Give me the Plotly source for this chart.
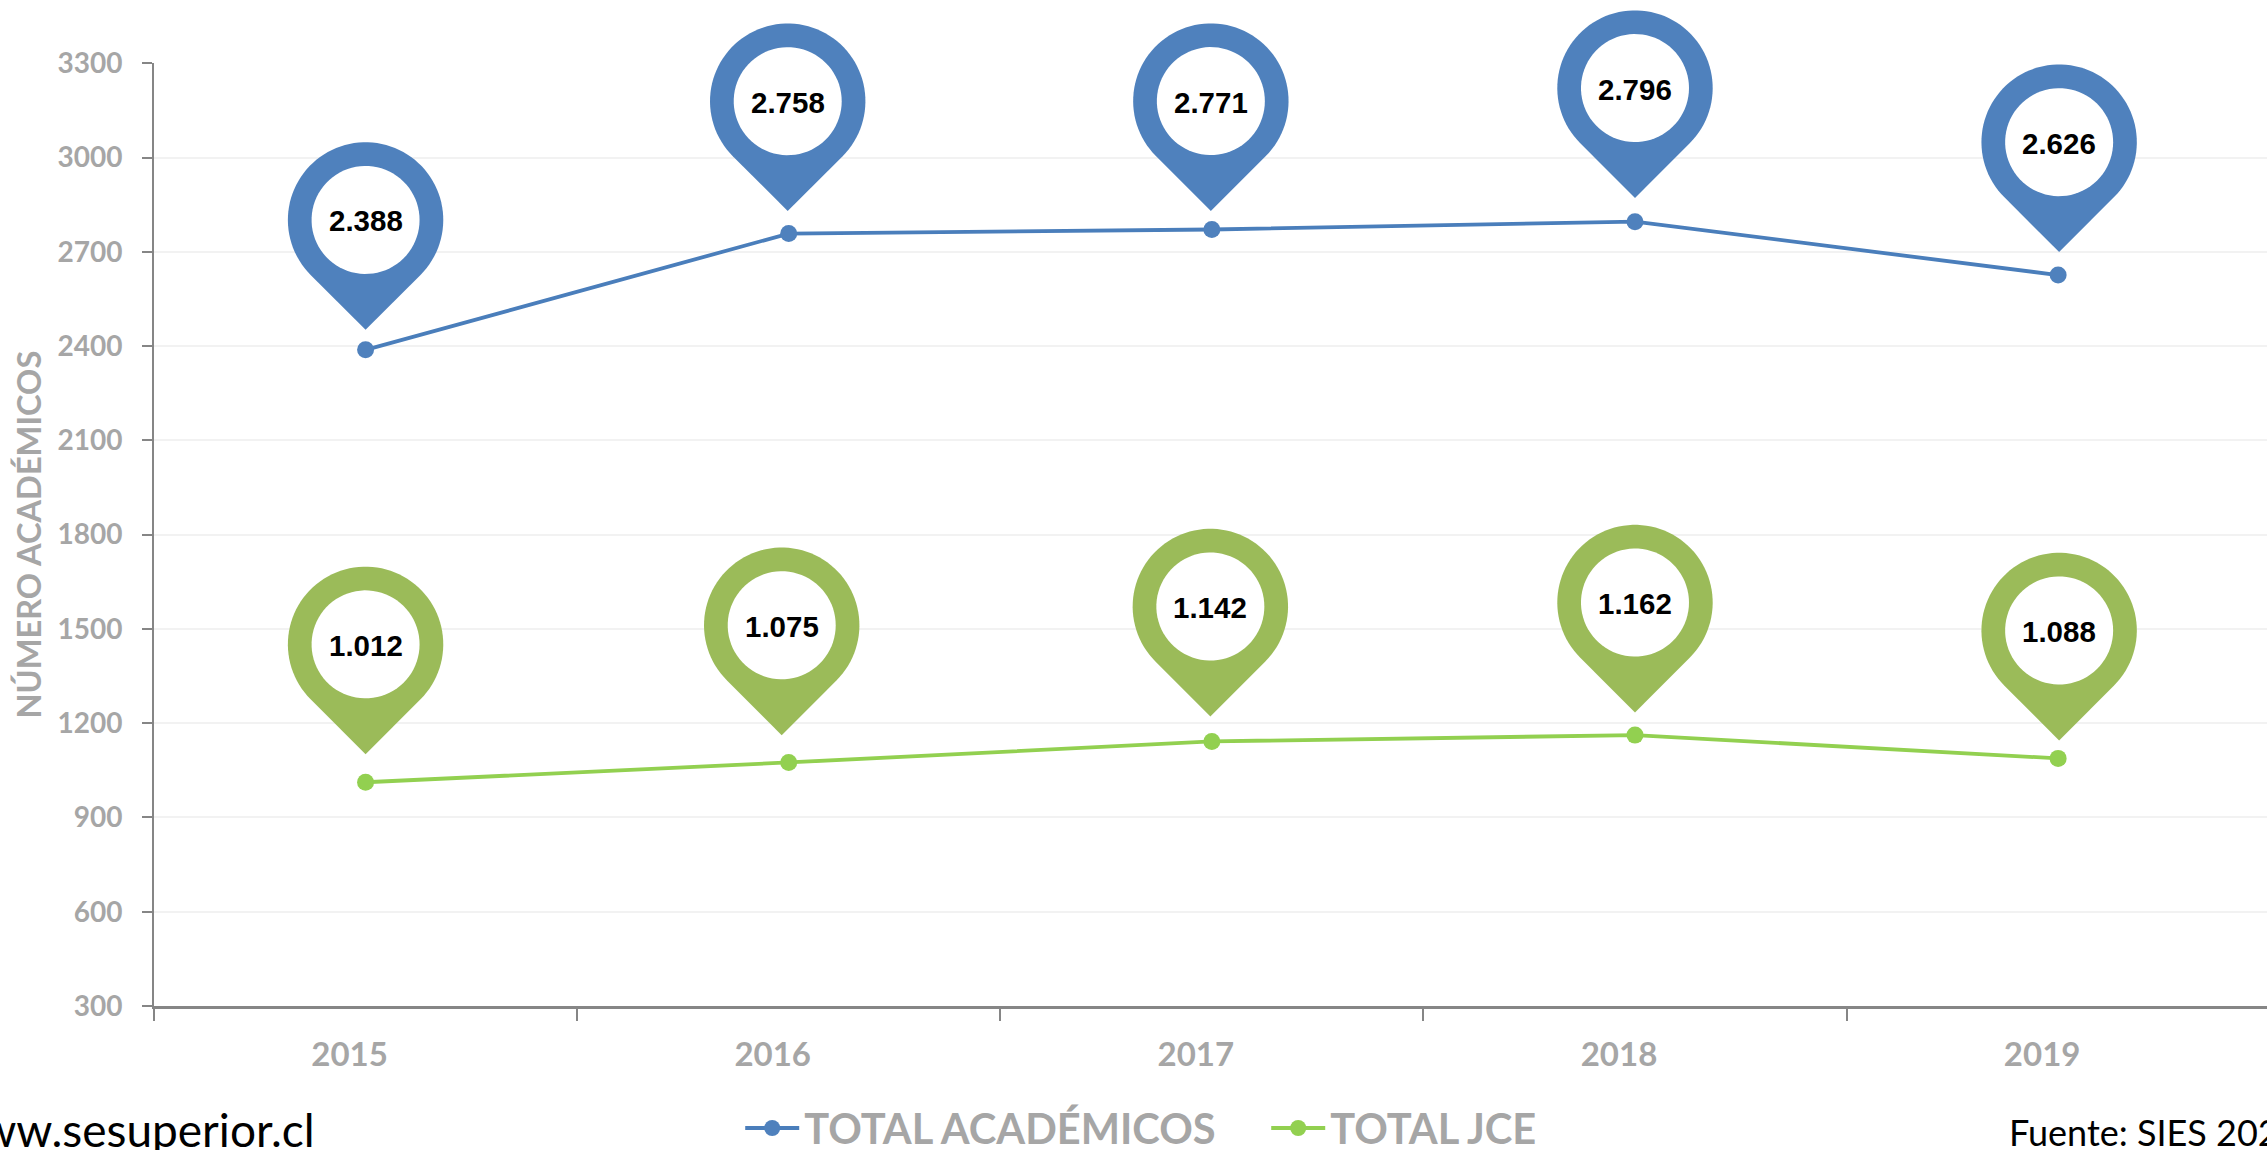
import numpy as np
import plotly.graph_objects as go

years = ["2015", "2016", "2017", "2018", "2019"]
total_academicos = [2388, 2758, 2771, 2796, 2626]
total_jce = [1012, 1075, 1142, 1162, 1088]
y_ticks = list(range(300, 3301, 300))

# manual callout placement (pixels): horizontal shift, gap from point to pin tip
blue_dx = [0, -1, -1, 0, 1]
blue_gap = [20, 22.5, 18.5, 23.7, 23]
green_dx = [0, -7, -1.5, 0, 1]
green_gap = [28, 27.3, 25, 22.7, 18]

BLUE_PIN, BLUE_LINE = "#4F81BD", "#4A7EBB"
GREEN_PIN, GREEN_LINE = "#9BBB59", "#92D050"
GRAY = "#A6A6A6"
AXIS = "#868686"
GRID = "#F2F2F2"
TEXTFONT = "Lato"
R_OUT, R_IN, TIP = 77.7, 54.0, 109.9

W, H = 2267, 1150
L, AX_TOP, AX_BOTTOM = 153.7, 63.3, 1006.5
B = H - AX_BOTTOM
PLOT_H = H - B
Y_MIN, Y_MAX = 300, 3300
# overlay scale: same data scale, extended to the top of the page so that pins can overflow
Y2_MAX = Y_MIN + (Y_MAX - Y_MIN) * PLOT_H / (AX_BOTTOM - AX_TOP)


def pin_path(dx, gap):
    t = np.radians(np.linspace(-45, 225, 80))
    cy = gap + TIP
    xs = dx + R_OUT * np.cos(t)
    ys = cy + R_OUT * np.sin(t)
    pts = [f"M {dx:.2f} {gap:.2f}"] + [f"L {a:.2f} {b:.2f}" for a, b in zip(xs, ys)]
    return " ".join(pts) + " Z"


def hole_path(dx, gap):
    t = np.radians(np.linspace(0, 360, 80)[:-1])
    cy = gap + TIP
    xs = dx + R_IN * np.cos(t)
    ys = cy + R_IN * np.sin(t)
    return "M " + " L ".join(f"{a:.2f} {b:.2f}" for a, b in zip(xs, ys)) + " Z"


def px(x_pixel):
    return (x_pixel - L) / (W - L)


def py(y_pixel):
    return (H - B - y_pixel) / PLOT_H


fig = go.Figure()
series = [
    ("TOTAL ACADÉMICOS", total_academicos, BLUE_LINE, BLUE_PIN, blue_dx, blue_gap),
    ("TOTAL JCE", total_jce, GREEN_LINE, GREEN_PIN, green_dx, green_gap),
]
shapes, annotations = [], []
for name, vals, lc, pc, dxs, gaps in series:
    fig.add_trace(go.Scatter(
        x=years, y=vals, name=name, mode="lines+markers",
        line=dict(color=lc, width=3.8),
        marker=dict(color=pc if name != "TOTAL JCE" else lc, size=17),
    ))
    # invisible carrier so the overlay subplot (and its clip area) exists
    fig.add_trace(go.Scatter(
        x=years, y=vals, yaxis="y2", mode="markers", showlegend=False,
        marker=dict(opacity=0, size=1), hoverinfo="skip",
    ))
    for i, (v, dx, gap) in enumerate(zip(vals, dxs, gaps)):
        for path, col in ((pin_path(dx, gap), pc), (hole_path(dx, gap), "#FFFFFF")):
            shapes.append(dict(
                type="path", xref="x", yref="y2", xsizemode="pixel", ysizemode="pixel",
                xanchor=i, yanchor=v, path=path, fillcolor=col,
                line=dict(width=0), layer="above",
            ))
        annotations.append(dict(
            x=i, y=v, xref="x", yref="y2", xshift=dx, yshift=gap + TIP - 1,
            text=f"{v:,}".replace(",", "."), showarrow=False, xanchor="center", yanchor="middle",
            font=dict(family="Liberation Sans", size=29.5, color="#000000", weight="bold"),
        ))

annotations += [
    dict(x=px(317), y=py(1130), xref="paper", yref="paper", xanchor="right", yanchor="middle",
         text="www.sesuperior.cl", showarrow=False,
         font=dict(family=TEXTFONT, size=46, color="#000000")),
    dict(x=px(2007), y=py(1133), xref="paper", yref="paper", xanchor="left", yanchor="middle",
         text="Fuente: SIES 2020", showarrow=False,
         font=dict(family=TEXTFONT, size=36, color="#000000")),
]

fig.update_layout(
    width=W, height=H, autosize=False,
    margin=dict(l=L, r=0, t=0, b=B, pad=0, autoexpand=False),
    paper_bgcolor="#FFFFFF", plot_bgcolor="rgba(0,0,0,0)",
    showlegend=True,
    legend=dict(
        orientation="h", x=px(740), y=py(1129),
        xanchor="left", yanchor="middle", itemwidth=54, entrywidth=457, entrywidthmode="pixels",
        bgcolor="rgba(0,0,0,0)",
        font=dict(family=TEXTFONT, size=41.6, color=GRAY, weight="bold"),
        traceorder="normal",
    ),
    shapes=shapes,
    annotations=annotations,
    xaxis=dict(
        type="category", categoryorder="array", categoryarray=years,
        range=[-0.5, (W - L) / 423.2 - 0.5], tickson="boundaries",
        ticks="outside", ticklen=12, tickwidth=2, tickcolor=AXIS,
        showline=True, linecolor=AXIS, linewidth=3, showgrid=False, zeroline=False,
        tickfont=dict(family=TEXTFONT, size=33, color=GRAY, weight="bold"),
        ticklabelshift=-16, ticklabelstandoff=17,
    ),
    yaxis=dict(
        domain=[0, (AX_BOTTOM - AX_TOP) / PLOT_H],
        range=[Y_MIN, Y_MAX], tickmode="array", tickvals=y_ticks, ticktext=[str(t) for t in y_ticks],
        ticks="outside", ticklen=10, tickwidth=2, tickcolor=AXIS,
        showline=True, linecolor=AXIS, linewidth=2, showgrid=True, gridcolor=GRID, gridwidth=2,
        zeroline=False,
        tickfont=dict(family=TEXTFONT, size=28, color=GRAY, weight="bold"),
        ticklabelstandoff=14,
        title=dict(text="NÚMERO ACADÉMICOS", standoff=6,
                   font=dict(family=TEXTFONT, size=32.6, color=GRAY, weight="bold")),
    ),
    yaxis2=dict(domain=[0, 1], range=[Y_MIN, Y2_MAX], visible=False, anchor="x"),
)

fig.write_html("out.html", post_script="document.body.style.margin='0';",
               config={"displayModeBar": False})
